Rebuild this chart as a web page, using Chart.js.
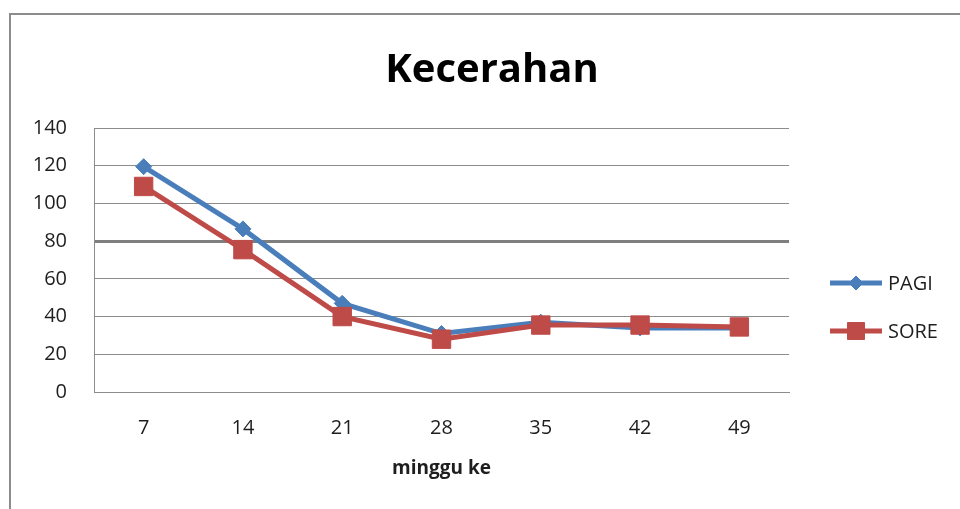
<!DOCTYPE html>
<html><head><meta charset="utf-8">
<script src="https://cdn.jsdelivr.net/npm/chart.js@4.4.0/dist/chart.umd.min.js"></script>
<style>html,body{margin:0;padding:0;background:#fff;overflow:hidden}#wrap{width:960px;height:509px;position:relative}</style>
</head><body><div id="wrap"><canvas id="c" width="960" height="509"></canvas></div>
<script>
const chartTitle = 'Kecerahan';
const xAxisTitle = 'minggu ke';
const weeks = ['7', '14', '21', '28', '35', '42', '49'];
const pagi = [119.5, 86.5, 47, 31, 37, 34, 34];
const sore = [109, 75.5, 40, 28, 35.5, 35.5, 34.5];
const yTicks = [0, 20, 40, 60, 80, 100, 120, 140];

const BLUE = '#4A7EBB';
const RED = '#BE4B48';
const FONT = '"Open Sans", "Liberation Sans", sans-serif';

const frame = {
  id: 'frame',
  beforeDraw(chart) {
    const ctx = chart.ctx;
    ctx.save();
    ctx.strokeStyle = '#8c8c8c';
    ctx.lineWidth = 2;
    ctx.beginPath();
    ctx.moveTo(10, chart.height);
    ctx.lineTo(10, 14);
    ctx.lineTo(chart.width, 14);
    ctx.stroke();
    ctx.restore();
  }
};

const sideLegend = {
  id: 'sideLegend',
  afterDraw(chart) {
    const ctx = chart.ctx, a = chart.chartArea;
    chart.data.datasets.forEach((ds, i) => {
      const y = a.top + 155 + i * 48;
      const x0 = a.right + 41, x1 = a.right + 93;
      ctx.save();
      ctx.strokeStyle = ds.borderColor;
      ctx.lineWidth = ds.borderWidth;
      ctx.beginPath(); ctx.moveTo(x0, y); ctx.lineTo(x1, y); ctx.stroke();
      ctx.fillStyle = ds.backgroundColor;
      ctx.strokeStyle = ds.borderColor;
      ctx.lineWidth = 1;
      Chart.helpers.drawPoint(ctx, {pointStyle: ds.pointStyle, radius: ds.legendRadius, borderWidth: 1, rotation: 0}, (x0 + x1) / 2, y);
      ctx.fillStyle = '#1e1e1e';
      ctx.font = '20px ' + FONT;
      ctx.textBaseline = 'middle';
      ctx.textAlign = 'left';
      ctx.fillText(ds.label, a.right + 99, y + 1);
      ctx.restore();
    });
  }
};

new Chart(document.getElementById('c'), {
  type: 'line',
  data: {
    labels: weeks,
    datasets: [
      {label: 'PAGI', data: pagi, borderColor: BLUE, backgroundColor: BLUE, borderWidth: 5,
       pointStyle: 'rectRot', pointRadius: 8, pointBorderWidth: 1, legendRadius: 7, tension: 0, order: 2},
      {label: 'SORE', data: sore, borderColor: RED, backgroundColor: RED, borderWidth: 5,
       pointStyle: 'rect', pointRadius: 13, pointBorderWidth: 1, legendRadius: 12, tension: 0, order: 1}
    ]
  },
  options: {
    responsive: false,
    animation: false,
    devicePixelRatio: 1,
    layout: {padding: {left: 24, right: 0, top: 14, bottom: 29}},
    plugins: {
      legend: {display: false},
      tooltip: {enabled: false},
      title: {display: true, text: chartTitle, color: '#000',
        font: {family: FONT, size: 40, weight: 'bold', lineHeight: 1.2},
        padding: {top: 33, bottom: 33}}
    },
    scales: {
      x: {
        offset: true,
        afterFit(s) { s.height = 88; },
        grid: {display: false, drawTicks: false},
        border: {display: true, color: '#8c8c8c', width: 1},
        ticks: {color: '#1e1e1e', padding: 24, font: {family: FONT, size: 20}},
        title: {display: true, text: xAxisTitle, color: '#1e1e1e',
          font: {family: FONT, size: 19, weight: 'bold', lineHeight: 1.2},
          padding: {top: 18, bottom: 0}}
      },
      y: {
        min: yTicks[0], max: yTicks[yTicks.length - 1],
        afterFit(s) { s.width = 70; },
        grid: {drawTicks: false,
          color: c => (c.tick && c.tick.value === 80) ? '#7f7f7f' : '#8c8c8c',
          lineWidth: c => (c.tick && c.tick.value === 80) ? 3 : 1},
        border: {display: true, color: '#8c8c8c', width: 1},
        ticks: {stepSize: yTicks[1] - yTicks[0], padding: 27, color: '#1e1e1e', font: {family: FONT, size: 20}}
      },
      yr: {
        type: 'linear', position: 'right', display: true,
        afterFit(s) { s.width = 171; },
        grid: {display: false}, border: {display: false}, ticks: {display: false}
      }
    }
  },
  plugins: [frame, sideLegend]
});
</script></body></html>
